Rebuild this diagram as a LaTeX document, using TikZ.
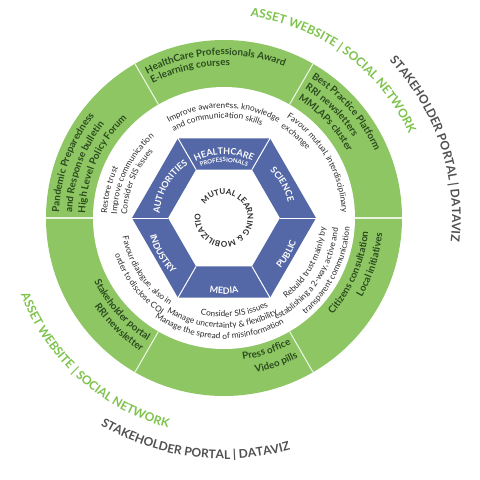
\documentclass[tikz,border=0pt]{standalone}
\usepackage{fontspec}
\setmainfont{Lato}
\usetikzlibrary{decorations.text}
\definecolor{ringgreen}{HTML}{8DC663}
\definecolor{hexblue}{HTML}{5467A7}
\definecolor{gdark}{HTML}{2B4A1E}
\definecolor{wdark}{HTML}{2A2A2A}
\definecolor{lgreen}{HTML}{7DC34B}
\definecolor{ogray}{HTML}{505050}
\definecolor{divline}{HTML}{E8F4DE}
\newcommand{\GRfont}{\fontsize{9.8}{12}\selectfont\bfseries\color{gdark}}
\newcommand{\WRfont}{\fontsize{8.3}{10}\selectfont\color{wdark}}
\newcommand{\HXfont}{\fontsize{9}{11}\selectfont\bfseries\color{white}}
\newcommand{\HXsmall}{\fontsize{6}{8}\selectfont\bfseries\color{white}}
\newcommand{\CTfont}{\fontsize{8}{9}\selectfont\bfseries\color{wdark}}
\newcommand{\OGfont}{\fontsize{12}{14}\selectfont\bfseries\color{lgreen}}
\newcommand{\OKfont}{\fontsize{12}{14}\selectfont\bfseries\color{ogray}}
% #1 format, #2 radius (pt), #3 start angle, #4 end angle, #5 alignment, #6 text
\newcommand{\ArcTxt}[6]{\path[decorate,decoration={text along path,text format delimiters={[}{]},text={[#1]#6},text align=#5}] (#3:#2pt) arc[start angle=#3,end angle=#4,radius=#2pt];}
\begin{document}
\begin{tikzpicture}
\useasboundingbox (-224pt,-262pt) rectangle (256pt,218pt);
\fill[white] (-224pt,-262pt) rectangle (256pt,218pt);
% green ring
\fill[ringgreen] (0,0) circle (178pt);
\fill[white] (0,0) circle (131pt);
\foreach \a in {0,60,...,300} \draw[divline, line width=1.1pt] (\a:131pt) -- (\a:178pt);
% blue hexagonal ring
\fill[hexblue, even odd rule] (0:92pt) -- (60:92pt) -- (120:92pt) -- (180:92pt) -- (240:92pt) -- (300:92pt) -- cycle
  (0:56pt) -- (60:56pt) -- (120:56pt) -- (180:56pt) -- (240:56pt) -- (300:56pt) -- cycle;
\foreach \a in {0,60,...,300} \draw[white, line width=1pt] (\a:56pt) -- (\a:92pt);
% outer texts
\ArcTxt{\OGfont}{203}{113.5}{-6.5}{center}{ASSET WEBSITE | SOCIAL NETWORK}
\ArcTxt{\OKfont}{228}{78.8}{-41.2}{center}{STAKEHOLDER PORTAL | DATAVIZ}
\ArcTxt{\OGfont}{217}{167.8}{287.8}{center}{ASSET WEBSITE | SOCIAL NETWORK}
\ArcTxt{\OKfont}{241}{202.6}{322.6}{center}{STAKEHOLDER PORTAL | DATAVIZ}
% green ring texts
\ArcTxt{\GRfont}{163}{118}{30}{left}{HealthCare Professionals Award}
\ArcTxt{\GRfont}{152}{118}{30}{left}{E-learning courses}
\ArcTxt{\GRfont}{165}{58}{-20}{left}{Best Practice Platform}
\ArcTxt{\GRfont}{152.5}{58}{-20}{left}{RRI newsletters}
\ArcTxt{\GRfont}{140}{58}{-20}{left}{MMLAPs cluster}
\ArcTxt{\GRfont}{165}{178}{100}{left}{Pandemic Preparedness}
\ArcTxt{\GRfont}{152}{178}{100}{left}{and Response bulletin}
\ArcTxt{\GRfont}{139}{178}{100}{left}{High Level Policy Forum}
\ArcTxt{\GRfont}{144.5}{170}{238}{right}{Stakeholder portal}
\ArcTxt{\GRfont}{157}{170}{238}{right}{RRI newsletter}
\ArcTxt{\GRfont}{143}{230}{298}{right}{Press office}
\ArcTxt{\GRfont}{158}{230}{298}{right}{Video pills}
\ArcTxt{\GRfont}{145}{280}{354.5}{right}{Citizens consultation}
\ArcTxt{\GRfont}{159}{280}{354.5}{right}{Local initiatives}
% white ring texts
\ArcTxt{\WRfont}{110}{150.3}{30.3}{center}{Improve awareness, knowledge}
\ArcTxt{\WRfont}{100}{154}{34}{center}{and communication skills}
\ArcTxt{\WRfont}{118}{58}{-20}{left}{Favour mutual, interdisciplinary}
\ArcTxt{\WRfont}{107}{58}{-20}{left}{exchange}
\ArcTxt{\WRfont}{117}{178}{100}{left}{Restore trust}
\ArcTxt{\WRfont}{107}{178}{100}{left}{Improve communication}
\ArcTxt{\WRfont}{97}{178}{100}{left}{Consider SIS issues}
\ArcTxt{\WRfont}{103}{160}{238}{right}{Favour dialogue, also in}
\ArcTxt{\WRfont}{115}{160}{237}{right}{order to disclose COI}
\ArcTxt{\WRfont}{99}{216.4}{336.4}{center}{Consider SIS issues}
\ArcTxt{\WRfont}{110}{209}{329}{center}{Manage uncertainty {\&} flexibility}
\ArcTxt{\WRfont}{121}{207.5}{327.5}{center}{Manage the spread of misinformation}
\ArcTxt{\WRfont}{102}{-89}{31}{center}{Rebuild trust mainly by}
\ArcTxt{\WRfont}{114.5}{-94}{26}{center}{establishing a 2-way, active and}
\ArcTxt{\WRfont}{126}{-87}{33}{center}{transparent communication}
% hexagon labels
\ArcTxt{\HXfont}{63.5}{150}{30}{center}{HEALTHCARE}
\ArcTxt{\HXsmall}{56}{150}{30}{center}{PROFESSIONALS}
\ArcTxt{\HXfont}{66}{90}{-30}{center}{SCIENCE}
\ArcTxt{\HXfont}{64.5}{210}{90}{center}{AUTHORITIES}
\ArcTxt{\HXfont}{76}{-90}{30}{center}{PUBLIC}
\ArcTxt{\HXfont}{76}{210}{330}{center}{MEDIA}
\ArcTxt{\HXfont}{76}{150}{270}{center}{INDUSTRY}
% centre
\ArcTxt{\CTfont}{23.5}{145}{-193}{fit to path}{MUTUAL LEARNING {\&} MOBILIZATION}
\end{tikzpicture}
\end{document}
